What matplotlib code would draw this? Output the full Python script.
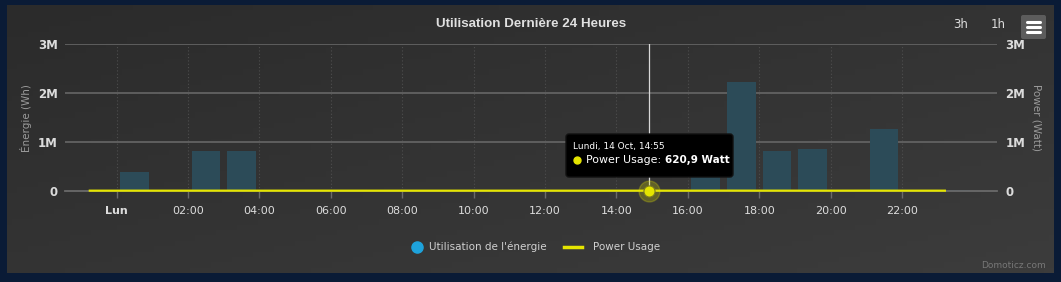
import numpy as np
import matplotlib
matplotlib.use('Agg')
import matplotlib.pyplot as plt
from matplotlib.patches import FancyBboxPatch
from matplotlib.lines import Line2D
from matplotlib.transforms import IdentityTransform

# données
hours = list(range(24))
energy_wh = [375000, 0, 810000, 810000, 20000, 0, 20000, 0, 0, 0, 0, 0,
             0, 10000, 0, 0, 900000, 2220000, 810000, 850000, 0, 1270000, 0, 12000]

power_time = [-0.75, 0, 1, 2, 3, 4, 5, 6, 7, 8, 9, 10, 11, 12, 13, 14,
              14 + 55 / 60, 16, 17, 18, 19, 20, 21, 22, 23, 23.2]
power_watt = [480, 520, 610, 900, 870, 540, 470, 500, 460, 450, 470, 480, 510, 530,
              560, 590, 620.9, 880, 1500, 820, 860, 640, 1100, 600, 520, 500]

tick_hours = [0, 2, 4, 6, 8, 10, 12, 14, 16, 18, 20, 22]
tick_labels = ['Lun', '02:00', '04:00', '06:00', '08:00', '10:00',
               '12:00', '14:00', '16:00', '18:00', '20:00', '22:00']
y_ticks = [0, 1e6, 2e6, 3e6]
y_labels = ['0', '1M', '2M', '3M']

tip_time = 14 + 55 / 60
tip_value = 620.9

W, H = 1061, 282
fig = plt.figure(figsize=(W / 100, H / 100), dpi=100)
fig.patch.set_facecolor('#0a1b36')


def fx(x):
    return x / W


def fy(y):
    return 1 - y / H


# fond du panneau (dégradé)
bg = fig.add_axes([fx(7), fy(273), fx(1047), 268 / H])
g = np.add.outer(np.linspace(0, 0.5, 50), np.linspace(0, 0.5, 200))
bg.imshow(g, cmap=matplotlib.colors.LinearSegmentedColormap.from_list('bg', ['#2b2b2b', '#3c3c3c']),
          aspect='auto', extent=[0, 1, 0, 1], vmin=0, vmax=1)
bg.axis('off')

yellow = '#e5e500'

ax = fig.add_axes([fx(65), fy(190.7), 932 / W, 146.7 / H])
ax.patch.set_alpha(0)
ax.set_xlim(-1.445, 24.66)
ax.set_ylim(0, 3e6)

for h in tick_hours:
    ax.axvline(h, color='#4e4e4e', ls=(0, (1, 2)), lw=0.8, zorder=1)
for v in y_ticks[1:]:
    ax.axhline(v, color='#626262', lw=1.3, zorder=1)

ax.bar(np.array(hours) + 0.5, energy_wh, width=0.8, color='#2c4b58', zorder=2)

for s in ax.spines.values():
    s.set_visible(False)
ax.spines['bottom'].set_visible(True)
ax.spines['bottom'].set_color('#6a6a6a')
ax.spines['bottom'].set_linewidth(1.3)

ax.set_xticks(tick_hours)
ax.set_xticklabels(tick_labels)
ax.tick_params(axis='x', length=5, color='#6a6a6a', width=1, labelcolor='#dcdcdc',
               labelsize=8, pad=6)
ax.get_xticklabels()[0].set_fontweight('bold')
ax.set_yticks(y_ticks)
ax.set_yticklabels(y_labels, fontweight='bold')
ax.tick_params(axis='y', length=0, labelcolor='#dcdcdc', labelsize=8.5, pad=5)

# crosshair
ax.axvline(tip_time, color='#d8d8d8', lw=0.9, zorder=3)

ax2 = ax.twinx()
ax2.set_ylim(0, 3e6)
for s in ax2.spines.values():
    s.set_visible(False)
ax2.set_yticks(y_ticks)
ax2.set_yticklabels(y_labels, fontweight='bold')
ax2.tick_params(axis='y', length=0, labelcolor='#dcdcdc', labelsize=8.5, pad=6)
ax2.plot(power_time, power_watt, color=yellow, lw=1.6, clip_on=False, zorder=4)
ax2.plot([tip_time], [tip_value], 'o', ms=15, color=yellow, alpha=0.25, clip_on=False, zorder=5)
ax2.plot([tip_time], [tip_value], 'o', ms=8, color=yellow, mec='#7a7a20', mew=0.8,
         clip_on=False, zorder=6)

fig.text(fx(26), fy(118), 'Énergie (Wh)', rotation=90, ha='center', va='center',
         color='#9a9a9a', fontsize=7.5)
fig.text(fx(1036), fy(117), 'Power (Watt)', rotation=270, ha='center', va='center',
         color='#9a9a9a', fontsize=7.5)

# titre
fig.text(fx(531), fy(24), 'Utilisation Dernière 24 Heures', ha='center', va='center',
         color='#e0e0e0', fontsize=9.6, family='Liberation Sans', fontweight='bold')

# boutons
fig.text(fx(961), fy(24), '3h', ha='center', va='center', color='#dddddd', fontsize=8.5)
fig.text(fx(998), fy(24), '1h', ha='center', va='center', color='#dddddd', fontsize=8.5)
fig.add_artist(FancyBboxPatch((1021, H - 39), 25, 24, boxstyle='round,pad=0,rounding_size=2',
                              transform=IdentityTransform(), facecolor='#5c5c5c', edgecolor='none'))
for yy in [22, 27, 32]:
    fig.add_artist(Line2D([1027, 1040], [H - yy, H - yy], color='white', lw=2.2,
                          solid_capstyle='round', transform=IdentityTransform()))

# tooltip
fig.add_artist(FancyBboxPatch((566, H - 177), 167, 43, boxstyle='round,pad=0,rounding_size=3',
                              transform=IdentityTransform(), facecolor='black', edgecolor='#111111',
                              zorder=10))
fig.text(fx(573), fy(147), 'Lundi, 14 Oct, 14:55', ha='left', va='center', color='white',
         fontsize=6.5, zorder=11)
fig.add_artist(Line2D([577], [H - 160], marker='o', ms=5, color=yellow,
                      transform=IdentityTransform(), zorder=11))
fig.text(fx(586), fy(160), 'Power Usage:', ha='left', va='center', color='white',
         fontsize=7.9, zorder=11)
fig.text(fx(665), fy(160), '620,9 Watt', ha='left', va='center', color='white',
         fontsize=7.5, fontweight='bold', zorder=11)

# légende
fig.add_artist(Line2D([417], [H - 247], marker='o', ms=8, color='#1ea3dc',
                      transform=IdentityTransform()))
fig.text(fx(429), fy(247), "Utilisation de l'énergie", ha='left', va='center',
         color='#d0d0d0', fontsize=7.5)
fig.add_artist(Line2D([564, 582], [H - 247, H - 247], color=yellow, lw=2.5,
                      transform=IdentityTransform()))
fig.text(fx(593), fy(247), 'Power Usage', ha='left', va='center',
         color='#d0d0d0', fontsize=7.5)

fig.text(fx(1046), fy(266), 'Domoticz.com', ha='right', va='center', color='#777777',
         fontsize=6.5)

fig.savefig('out.png', dpi=100, facecolor=fig.get_facecolor())
